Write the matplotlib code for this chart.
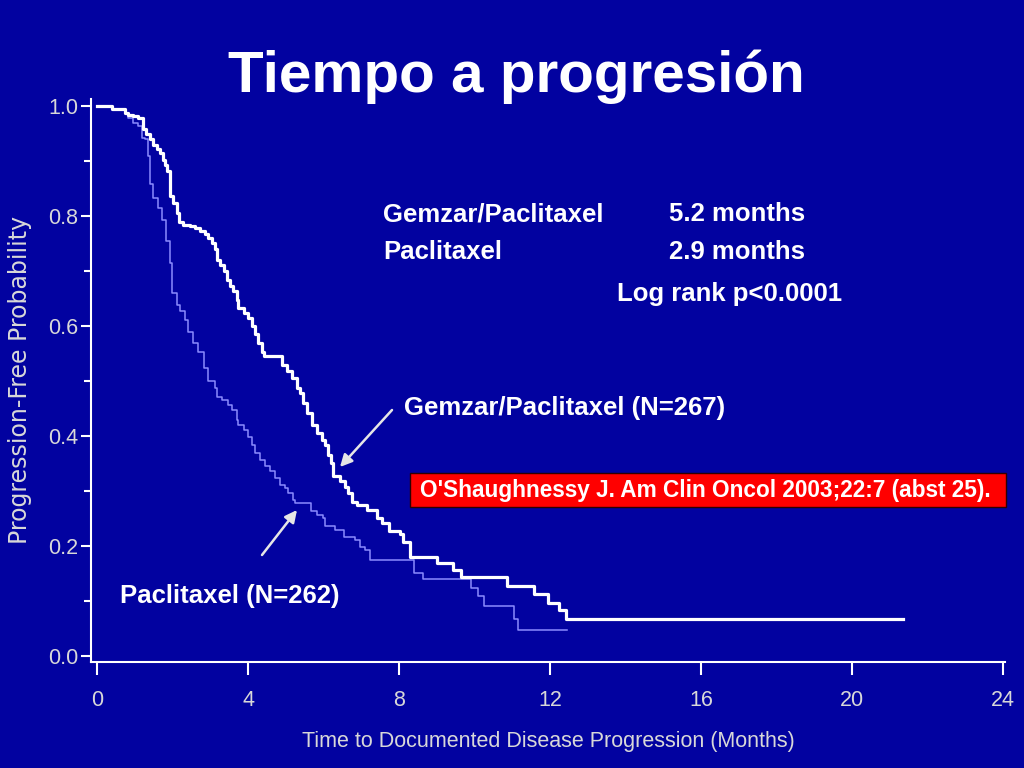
import matplotlib
matplotlib.use("Agg")
import matplotlib.pyplot as plt
from matplotlib.patches import Rectangle
from matplotlib.ticker import MultipleLocator

# ---------------- data ----------------
gem_t = [0.00, 0.39, 0.74, 0.83, 0.96, 1.09, 1.23, 1.31, 1.40, 1.49, 1.58, 1.67,
         1.74, 1.80, 1.86, 1.92, 1.94, 2.02, 2.11, 2.16, 2.29, 2.46, 2.60, 2.73,
         2.86, 2.95, 3.04, 3.13, 3.17, 3.26, 3.35, 3.44, 3.52, 3.61, 3.70, 3.74,
         3.88, 4.01, 4.10, 4.19, 4.27, 4.36, 4.41, 4.89, 5.03, 5.16, 5.29, 5.38,
         5.46, 5.55, 5.69, 5.82, 5.95, 6.04, 6.12, 6.21, 6.26, 6.44, 6.57, 6.66,
         6.75, 6.88, 7.14, 7.41, 7.54, 7.73, 8.02, 8.11, 8.30, 9.01, 9.44, 9.63,
         10.86, 11.57, 11.94, 12.23, 12.41, 21.36]
gem_s = [1.000, 0.995, 0.988, 0.985, 0.982, 0.979, 0.958, 0.949, 0.940, 0.930, 0.923, 0.916,
         0.903, 0.894, 0.882, 0.867, 0.837, 0.825, 0.806, 0.789, 0.785, 0.782, 0.779, 0.773,
         0.767, 0.761, 0.752, 0.740, 0.721, 0.712, 0.700, 0.685, 0.673, 0.664, 0.648, 0.633,
         0.624, 0.615, 0.600, 0.585, 0.570, 0.554, 0.545, 0.530, 0.518, 0.506, 0.488, 0.478,
         0.460, 0.442, 0.421, 0.406, 0.393, 0.384, 0.366, 0.351, 0.327, 0.318, 0.308, 0.296,
         0.281, 0.275, 0.266, 0.251, 0.242, 0.228, 0.222, 0.207, 0.180, 0.169, 0.157, 0.143,
         0.128, 0.112, 0.097, 0.083, 0.068, 0.068]

pac_t = [0.00, 0.39, 0.74, 0.83, 0.96, 1.09, 1.18, 1.27, 1.36, 1.40, 1.49, 1.62,
         1.71, 1.83, 1.93, 1.98, 2.11, 2.20, 2.33, 2.42, 2.55, 2.68, 2.83, 2.93,
         3.13, 3.17, 3.30, 3.48, 3.57, 3.70, 3.74, 3.88, 4.01, 4.10, 4.19, 4.32,
         4.45, 4.58, 4.72, 4.85, 4.98, 5.07, 5.20, 5.25, 5.66, 5.82, 5.99, 6.04,
         6.30, 6.53, 6.83, 6.97, 7.10, 7.23, 8.39, 8.63, 9.91, 10.10, 10.24, 11.04,
         11.14, 12.46]
pac_s = [1.000, 0.995, 0.988, 0.979, 0.970, 0.964, 0.943, 0.940, 0.909, 0.858, 0.834, 0.815,
         0.794, 0.755, 0.715, 0.661, 0.639, 0.627, 0.612, 0.590, 0.570, 0.553, 0.524, 0.500,
         0.488, 0.472, 0.466, 0.457, 0.448, 0.430, 0.421, 0.412, 0.399, 0.384, 0.369, 0.357,
         0.345, 0.336, 0.324, 0.311, 0.305, 0.296, 0.284, 0.278, 0.263, 0.257, 0.251, 0.236,
         0.230, 0.217, 0.211, 0.199, 0.193, 0.175, 0.151, 0.140, 0.124, 0.109, 0.090, 0.068,
         0.047, 0.047]

x_ticks = [0, 4, 8, 12, 16, 20, 24]
y_ticks = [0.0, 0.2, 0.4, 0.6, 0.8, 1.0]
y_ticklabels = ["0.0", "0.2", "0.4", "0.6", "0.8", "1.0"]

title = "Tiempo a progresión"
xlabel = "Time to Documented Disease Progression (Months)"
ylabel = "Progression-Free Probability"
stats_rows = [("Gemzar/Paclitaxel", "5.2 months"), ("Paclitaxel", "2.9 months")]
logrank = "Log rank p<0.0001"
gem_label = "Gemzar/Paclitaxel (N=267)"
pac_label = "Paclitaxel (N=262)"
citation = "O'Shaughnessy J. Am Clin Oncol 2003;22:7 (abst 25)."

# ---------------- styling ----------------
BG = "#0202A0"
W, H = 1024, 768
REG = ["Liberation Sans", "DejaVu Sans"]
BOLD = ["Liberation Sans", "DejaVu Sans"]


def fx(x):
    return x / W


def fy(y):
    return 1 - y / H


fig = plt.figure(figsize=(W / 100, H / 100), dpi=100, facecolor=BG)
ax = fig.add_axes([fx(91), fy(662), (1005 - 91) / W, (662 - 99) / H])
ax.set_facecolor(BG)

ax.step(pac_t, pac_s, where="post", color="#8C8CFF", lw=1.1, zorder=3)
ax.step(gem_t, gem_s, where="post", color="#FFFFFF", lw=2.3, zorder=4)

ax.set_xlim(-0.16, 24.05)
ax.set_ylim(-0.011, 1.0135)

for s in ["top", "right"]:
    ax.spines[s].set_visible(False)
for s in ["left", "bottom"]:
    ax.spines[s].set_color("white")
    ax.spines[s].set_linewidth(1.5)

ax.set_xticks(x_ticks)
ax.set_xticklabels([str(v) for v in x_ticks])
ax.set_yticks(y_ticks)
ax.set_yticklabels(y_ticklabels)
ax.yaxis.set_minor_locator(MultipleLocator(0.1))

ax.tick_params(axis="x", which="major", direction="out", length=9, width=1.5,
               color="white", labelcolor="#D8D8D8", pad=11)
ax.tick_params(axis="y", which="major", direction="out", length=7, width=1.5,
               color="white", labelcolor="#D8D8D8", pad=2)
ax.tick_params(axis="y", which="minor", direction="out", length=5, width=1.5,
               color="white")
for lab in ax.get_xticklabels() + ax.get_yticklabels():
    lab.set_family(REG)
    lab.set_fontsize(15.5)

# axis labels (placed as figure text)
fig.text(fx(548), fy(742), xlabel, color="#D8D8D8", fontsize=15.5, family=REG,
         ha="center", va="center")
fig.text(fx(20), fy(380), ylabel, color="#D8D8D8", fontsize=17, family=["DejaVu Sans"],
         ha="center", va="center", rotation=90)

# title
fig.text(fx(516), fy(92), title, color="white", fontsize=42, fontweight="bold",
         family=BOLD, ha="center", va="baseline")

# statistics block
row_base = [221, 259]
for (name, med), yb in zip(stats_rows, row_base):
    fig.text(fx(383), fy(yb), name, color="white", fontsize=18.5, fontweight="bold",
             family=BOLD, ha="left", va="baseline")
    fig.text(fx(669), fy(yb), med, color="white", fontsize=18.5, fontweight="bold",
             family=BOLD, ha="left", va="baseline")
fig.text(fx(617), fy(301), logrank, color="white", fontsize=18.5, fontweight="bold",
         family=BOLD, ha="left", va="baseline")

# curve labels with arrows
fig.text(fx(404), fy(415), gem_label, color="white", fontsize=18.5, fontweight="bold",
         family=BOLD, ha="left", va="baseline")
fig.text(fx(120), fy(603), pac_label, color="white", fontsize=18.5, fontweight="bold",
         family=BOLD, ha="left", va="baseline")

arrow_kw = dict(arrowstyle="-|>", color="#E6E6E6", lw=1.8, mutation_scale=18,
                shrinkA=0, shrinkB=0)
ax.annotate("", xy=(fx(340), fy(467)), xycoords="figure fraction",
            xytext=(fx(392), fy(410)), textcoords="figure fraction",
            arrowprops=arrow_kw)
ax.annotate("", xy=(fx(297), fy(510)), xycoords="figure fraction",
            xytext=(fx(262), fy(555)), textcoords="figure fraction",
            arrowprops=arrow_kw)

# citation box
fig.patches.append(Rectangle((fx(410), fy(507)), (1006 - 410) / W, (507 - 473) / H,
                             transform=fig.transFigure, facecolor="#FF0000",
                             edgecolor="#300000", lw=1.0, zorder=5))
fig.text(fx(420), fy(497), citation, color="white", fontsize=16.3, fontweight="bold",
         family=BOLD, ha="left", va="baseline", zorder=6)

fig.savefig("out.png", dpi=100, facecolor=BG)
